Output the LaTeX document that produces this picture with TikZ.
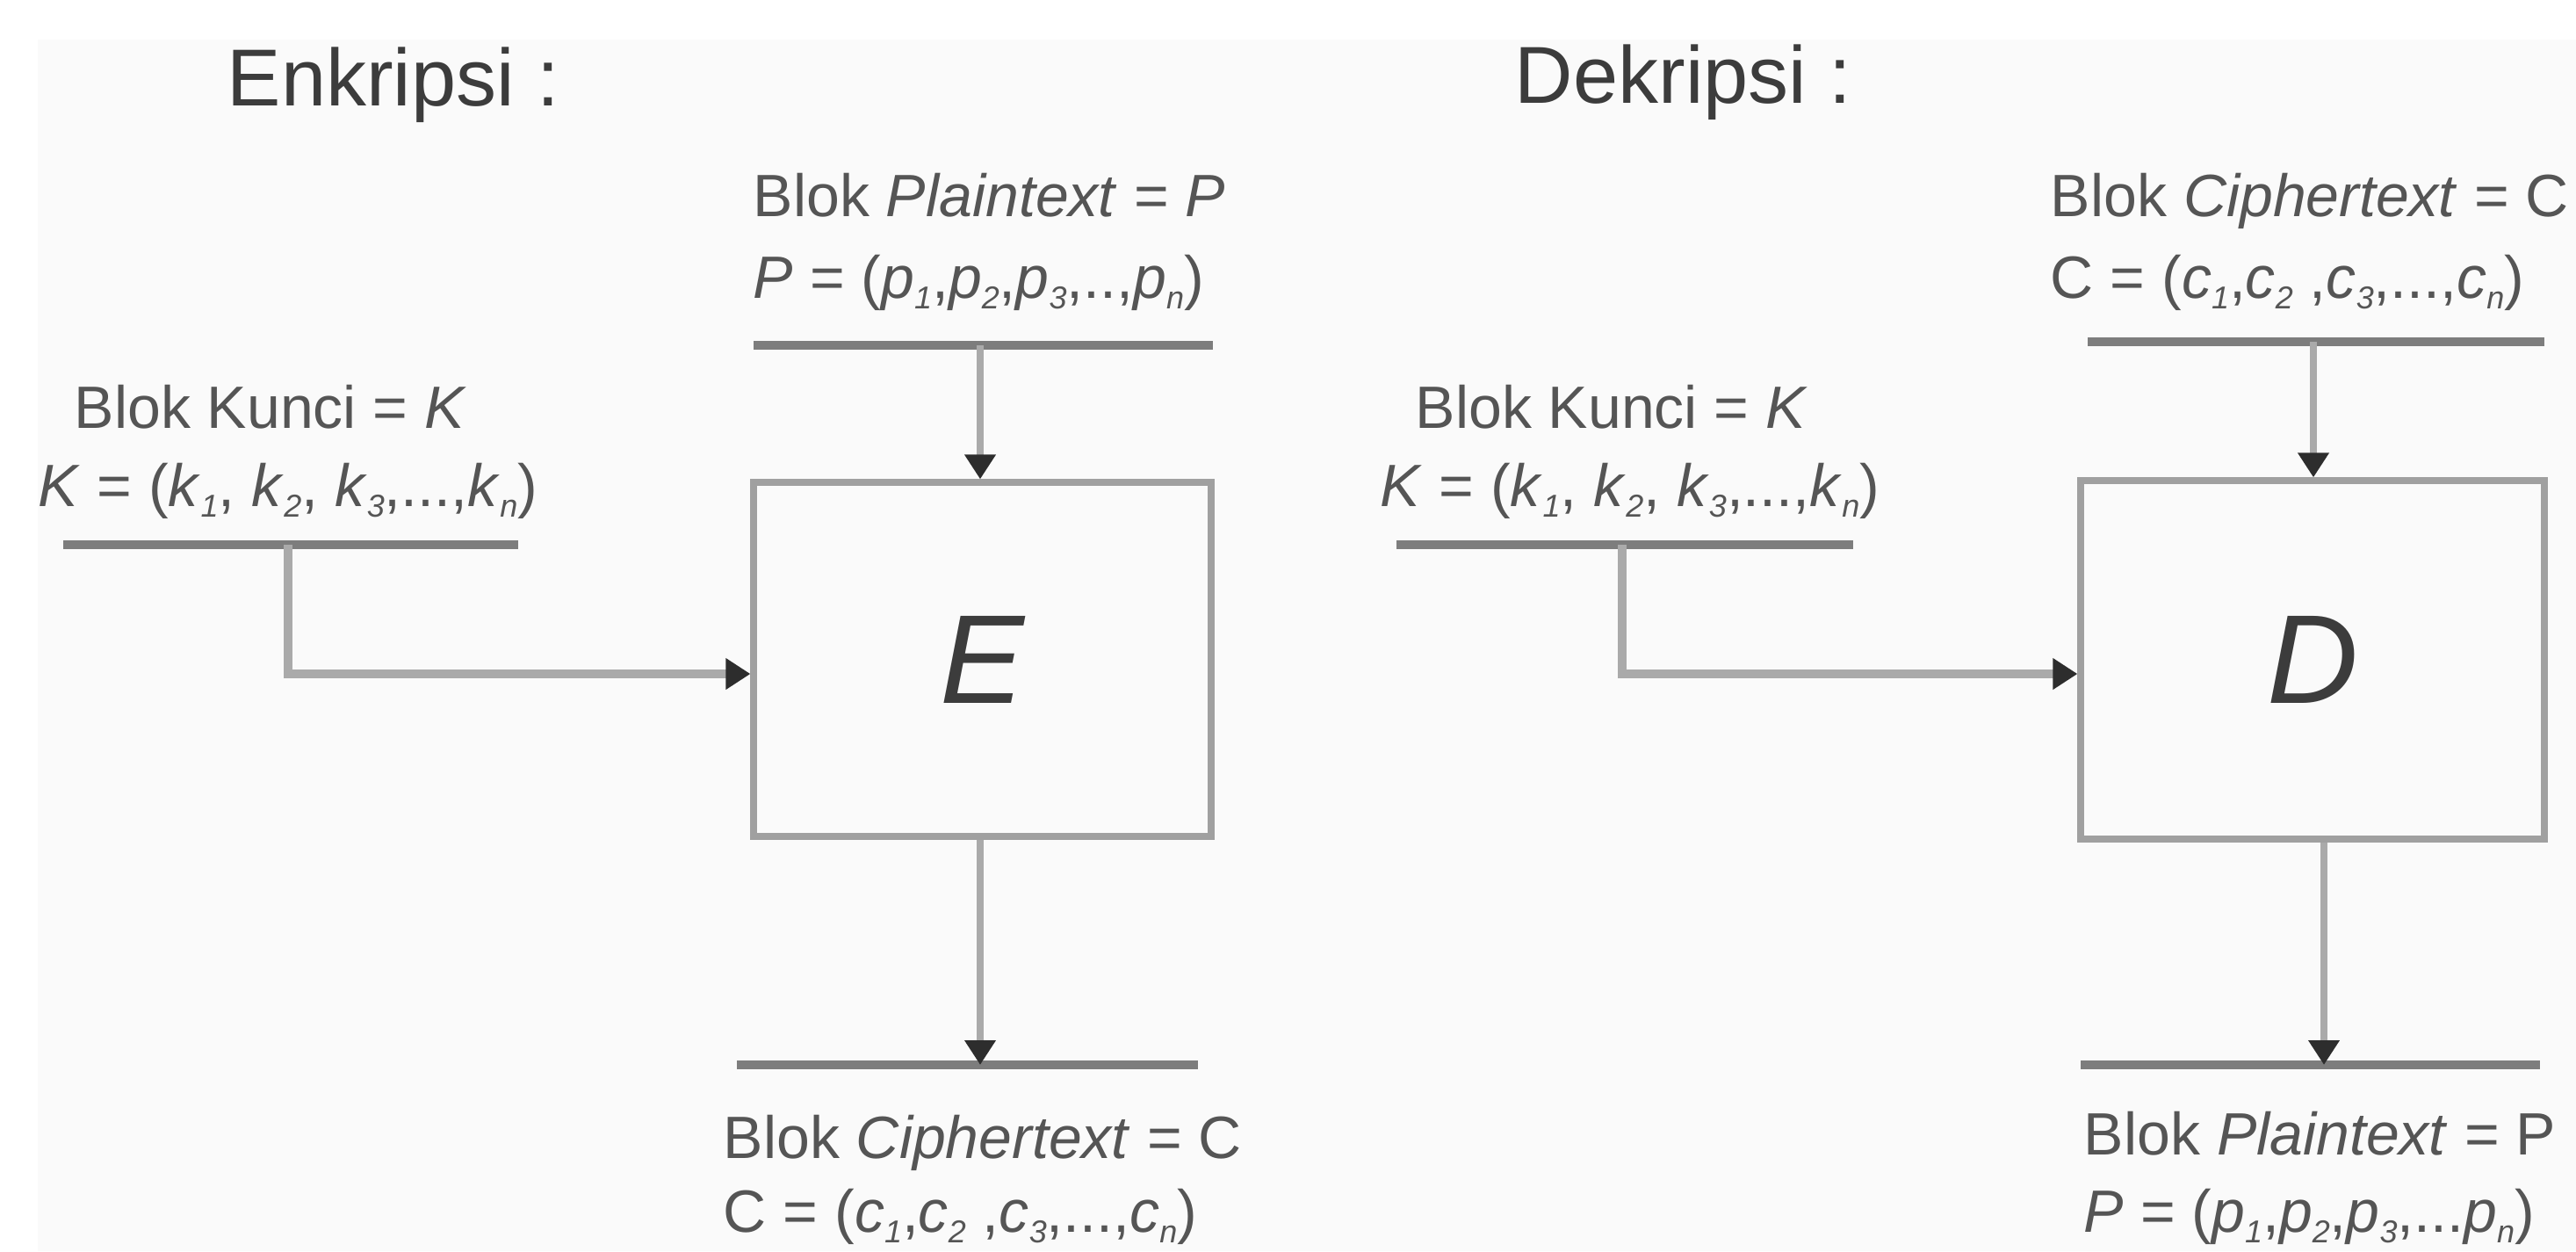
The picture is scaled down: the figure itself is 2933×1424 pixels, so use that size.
\documentclass[tikz,border=0pt]{standalone}
\usepackage{fontspec}
\setmainfont{Liberation Sans}
\usetikzlibrary{arrows.meta,calc}
\definecolor{bgc}{RGB}{250,250,250}
\definecolor{txt}{RGB}{85,85,85}
\definecolor{ttl}{RGB}{60,60,60}
\definecolor{barc}{RGB}{125,125,125}
\definecolor{boxc}{RGB}{160,160,160}
\definecolor{shaftc}{RGB}{170,170,170}
\definecolor{tipc}{RGB}{45,45,45}
\newcommand{\vv}[2]{\textit{#1}\raisebox{-0.35ex}{\fontsize{9}{10}\selectfont\itshape #2}}
\begin{document}
\begin{tikzpicture}[x=0.25pt,y=-0.25pt,
  lbl/.style={anchor=base west,inner sep=0pt,text=txt,font=\fontsize{17}{20}\selectfont},
  ttlstyle/.style={anchor=base west,inner sep=0pt,text=ttl,font=\fontsize{23}{27}\selectfont},
  barline/.style={draw=barc,line width=2.3pt},
  procbox/.style={draw=boxc,line width=1.8pt,fill=bgc,inner sep=0pt,text=ttl,
     font=\fontsize{36}{40}\selectfont\itshape},
  flow/.style={draw=shaftc,line width=1.8pt,-{Triangle[length=7pt,width=8.5pt,color=tipc]}},
  keyflow/.style={draw=shaftc,line width=2.4pt,-{Triangle[length=7pt,width=8.5pt,color=tipc]}}]
\useasboundingbox (0,0) rectangle (2933,1424);
\fill[white] (0,0) rectangle (2933,1424);
\fill[bgc] (43,45) rectangle (2933,1424);

% ---------------- Enkripsi ----------------
\node[ttlstyle] (t1) at (258,120) {Enkripsi :};
\node[lbl] (pt1) at (857,246) {Blok \textit{Plaintext} = \textit{P}};
\node[lbl] (pv1) at (857,339) {\textit{P} = (\vv{p}{1},\vv{p}{2},\vv{p}{3},..,\vv{p}{n})};
\coordinate (ib1a) at (858,393);
\coordinate (ib1b) at (1381,393);
\draw[barline] (ib1a) -- (ib1b);
\coordinate (ia1) at (1116,393);

\node[procbox,minimum width=130.25pt,minimum height=100.75pt] (E) at (1118.5,750.5) {E};

\node[lbl] (kt1) at (84,487) {Blok Kunci = \textit{K}};
\node[lbl] (kv1) at (43,576) {\textit{K} = (\vv{k}{1}, \vv{k}{2}, \vv{k}{3},...,\vv{k}{n})};
\coordinate (kb1a) at (72,620);
\coordinate (kb1b) at (590,620);
\draw[barline] (kb1a) -- (kb1b);
\coordinate (ka1) at (328,620);
\coordinate (kc1) at (328,767);

\coordinate (ob1a) at (839,1212);
\coordinate (ob1b) at (1364,1212);
\coordinate (oa1) at (1116,1212);
\draw[barline] (ob1a) -- (ob1b);
\node[lbl] (ct1) at (823,1318) {Blok \textit{Ciphertext} = C};
\node[lbl] (cv1) at (823,1402) {C = (\vv{c}{1},\vv{c}{2} ,\vv{c}{3},...,\vv{c}{n})};

\draw[flow] (ia1) -- (ia1 |- E.north);
\draw[keyflow] (ka1) -- (kc1) -- (kc1 -| E.west);
\draw[flow] (oa1 |- E.south) -- (oa1);

% ---------------- Dekripsi ----------------
\node[ttlstyle] (t2) at (1724,117) {Dekripsi :};
\node[lbl] (ct2) at (2334,246) {Blok \textit{Ciphertext} = C};
\node[lbl] (cv2) at (2334,339) {C = (\vv{c}{1},\vv{c}{2} ,\vv{c}{3},...,\vv{c}{n})};
\coordinate (ib2a) at (2377,389);
\coordinate (ib2b) at (2897,389);
\draw[barline] (ib2a) -- (ib2b);
\coordinate (ia2) at (2634,389);

\node[procbox,minimum width=132pt,minimum height=102pt] (D) at (2633,751) {D};

\node[lbl] (kt2) at (1611,487) {Blok Kunci = \textit{K}};
\node[lbl] (kv2) at (1571,576) {\textit{K} = (\vv{k}{1}, \vv{k}{2}, \vv{k}{3},...,\vv{k}{n})};
\coordinate (kb2a) at (1590,620);
\coordinate (kb2b) at (2110,620);
\draw[barline] (kb2a) -- (kb2b);
\coordinate (ka2) at (1847,620);
\coordinate (kc2) at (1847,767);

\coordinate (ob2a) at (2369,1212);
\coordinate (ob2b) at (2892,1212);
\coordinate (oa2) at (2646,1212);
\draw[barline] (ob2a) -- (ob2b);
\node[lbl] (pt2) at (2372,1314) {Blok \textit{Plaintext} = P};
\node[lbl] (pv2) at (2372,1402) {\textit{P} = (\vv{p}{1},\vv{p}{2},\vv{p}{3},...\vv{p}{n})};

\draw[flow] (ia2) -- (ia2 |- D.north);
\draw[keyflow] (ka2) -- (kc2) -- (kc2 -| D.west);
\draw[flow] (oa2 |- D.south) -- (oa2);
\end{tikzpicture}
\end{document}
